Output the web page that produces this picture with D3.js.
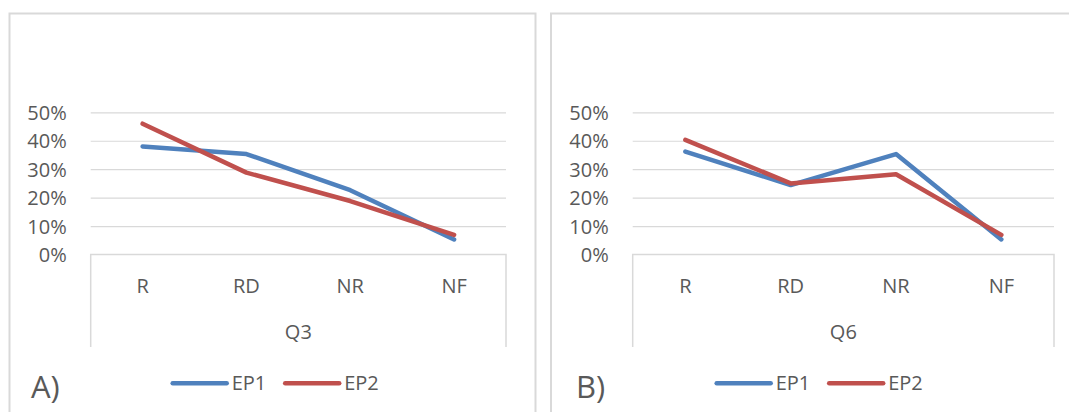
<!DOCTYPE html>
<html>
<head>
<meta charset="utf-8">
<script src="https://cdn.jsdelivr.net/npm/d3@7"></script>
<style>
  html, body { margin: 0; padding: 0; background: #fff; }
  svg { display: block; font-family: "Open Sans", "Noto Sans", sans-serif; }
</style>
</head>
<body>
<svg id="chart" width="1069" height="412"></svg>
<script>
// Response categories along the x axis
const categories = ["R", "RD", "NR", "NF"];
// Series names
const seriesNames = ["EP1", "EP2"];
// Y-axis ticks
const yTicks = [0, 0.1, 0.2, 0.3, 0.4, 0.5];

// Question Q3 (panel A)
const q3EP1 = [0.38, 0.353, 0.226, 0.053];
const q3EP2 = [0.46, 0.288, 0.188, 0.069];
// Question Q6 (panel B)
const q6EP1 = [0.362, 0.244, 0.353, 0.053];
const q6EP2 = [0.403, 0.25, 0.282, 0.069];

const panelTitles = ["Q3", "Q6"];
const panelTags = ["A)", "B)"];

const colors = { EP1: "#4f81bd", EP2: "#c0504d" };
const textColor = "#595959";
const lineGray = "#d9d9d9";
const labelSize = "20px";

const svg = d3.select("#chart");

const panels = [
  { frame: [9.5, 13.5, 526, 420], plot: [90.7, 506], title: panelTitles[0], tag: panelTags[0],
    tagX: 31, legendX: 172.7, series: [q3EP1, q3EP2] },
  { frame: [551, 13.5, 540, 420], plot: [632.7, 1054], title: panelTitles[1], tag: panelTags[1],
    tagX: 576, legendX: 716.7, series: [q6EP1, q6EP2] }
];

const yTop = 112.3, yBottom = 254.5, boxBottom = 347;

panels.forEach(p => {
  const g = svg.append("g");

  // panel frame
  g.append("rect")
    .attr("x", p.frame[0]).attr("y", p.frame[1])
    .attr("width", p.frame[2]).attr("height", p.frame[3])
    .attr("fill", "#fff").attr("stroke", lineGray).attr("stroke-width", 2);

  const x = d3.scaleBand().domain(categories).range(p.plot).paddingInner(0).paddingOuter(0);
  const y = d3.scaleLinear().domain([0, 0.5]).range([yBottom, yTop]);

  // horizontal gridlines + percentage labels
  const yAxis = g.append("g")
    .attr("transform", `translate(${p.plot[0]},0)`)
    .call(d3.axisLeft(y).tickValues(yTicks).tickFormat(d3.format(".0%"))
      .tickSize(-(p.plot[1] - p.plot[0])).tickPadding(24));
  yAxis.select(".domain").remove();
  yAxis.selectAll(".tick line").attr("stroke", lineGray).attr("stroke-width", 1.2)
    .attr("opacity", d => d === 0 ? 0 : 1);
  yAxis.selectAll(".tick text")
    .attr("fill", textColor).style("font-size", labelSize).attr("dy", "0.35em")
    .style("font-family", "'Open Sans', sans-serif");

  // category box under the plot
  g.append("path")
    .attr("d", `M${p.plot[0]},${boxBottom}V${yBottom}H${p.plot[1]}V${boxBottom}`)
    .attr("fill", "none").attr("stroke", lineGray).attr("stroke-width", 1.5);

  // category labels
  g.selectAll(".cat").data(categories).enter().append("text")
    .attr("x", d => x(d) + x.bandwidth() / 2).attr("y", 286)
    .attr("dy", "0.35em").attr("text-anchor", "middle")
    .attr("fill", textColor).style("font-size", labelSize).text(d => d);

  // question title
  g.append("text")
    .attr("x", (p.plot[0] + p.plot[1]) / 2).attr("y", 331.7)
    .attr("dy", "0.35em").attr("text-anchor", "middle")
    .attr("fill", textColor).style("font-size", labelSize).text(p.title);

  // series lines
  const line = d3.line()
    .x((d, i) => x(categories[i]) + x.bandwidth() / 2)
    .y(d => y(d));
  p.series.forEach((vals, si) => {
    g.append("path").datum(vals)
      .attr("d", line)
      .attr("fill", "none")
      .attr("stroke", colors[seriesNames[si]])
      .attr("stroke-width", 4.5)
      .attr("stroke-linejoin", "round")
      .attr("stroke-linecap", "round");
  });

  // legend
  const legendY = 383.3;
  const itemStep = 112.5;
  seriesNames.forEach((name, si) => {
    const lx = p.legendX + si * itemStep;
    g.append("line")
      .attr("x1", lx).attr("x2", lx + 54)
      .attr("y1", legendY).attr("y2", legendY)
      .attr("stroke", colors[name]).attr("stroke-width", 4.5)
      .attr("stroke-linecap", "round");
    g.append("text")
      .attr("x", lx + 59).attr("y", legendY).attr("dy", "0.35em")
      .attr("fill", textColor).style("font-size", labelSize).text(name);
  });

  // panel tag
  g.append("text")
    .attr("x", p.tagX).attr("y", 398)
    .attr("fill", textColor).style("font-size", "31px").text(p.tag);
});
</script>
</body>
</html>
